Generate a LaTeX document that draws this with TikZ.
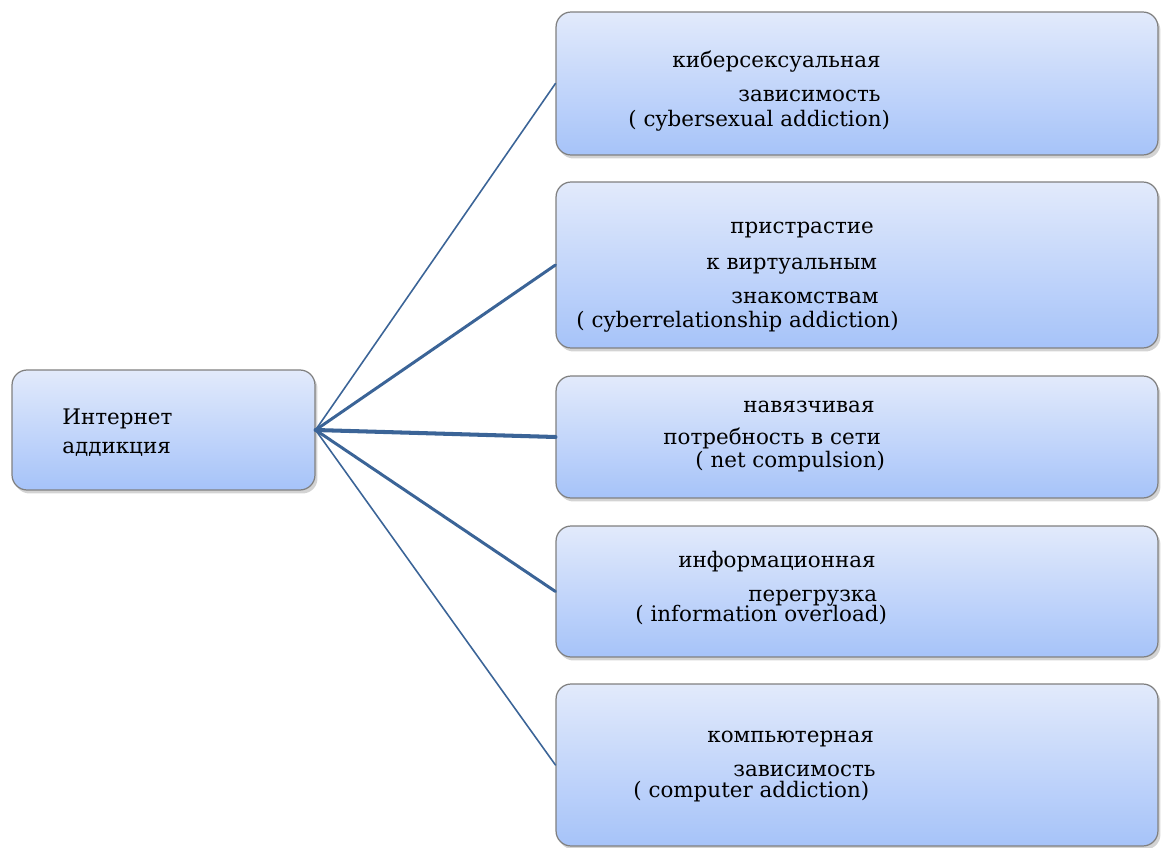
\documentclass[tikz,border=0pt]{standalone}
\usepackage{fontspec}
\setmainfont{DejaVu Serif}
\usetikzlibrary{shadows}
\definecolor{linkblue}{HTML}{3B6497}
\definecolor{boxtop}{HTML}{E2EAFB}
\definecolor{boxbot}{HTML}{A6C3F9}
\tikzset{
	termbox/.style={draw=black!50, line width=0.7pt, rounded corners=0.3cm, top color=boxtop, bottom color=boxbot, inner sep=0pt,
		drop shadow={opacity=0.35, shadow xshift=0.05cm, shadow yshift=-0.07cm}},
	termtext/.style={anchor=mid west, inner sep=0pt, font=\rmfamily\fontsize{12.2}{15}\selectfont},
	link/.style={draw=linkblue, line cap=round}
}

\begin{document}
\begin{tikzpicture}[x=0.02cm, y=-0.02cm]
		%%%%% START %%%%%
		\useasboundingbox (0, 0) rectangle (1161, 848);
		
		\node[termbox, minimum width=6.06cm, minimum height=2.4cm] (hub) at (163.5, 430) {};
		\node[termtext] (hubA) at (62, 420) {Интернет};
		\node[termtext] (hubB) at (62, 449) {аддикция};
		
		\node[termbox, minimum width=12.04cm, minimum height=2.86cm] (b1) at (857, 83.5) {};
		\node[termbox, minimum width=12.04cm, minimum height=3.32cm] (b2) at (857, 265) {};
		\node[termbox, minimum width=12.04cm, minimum height=2.44cm] (b3) at (857, 437) {};
		\node[termbox, minimum width=12.04cm, minimum height=2.62cm] (b4) at (857, 591.5) {};
		\node[termbox, minimum width=12.04cm, minimum height=3.24cm] (b5) at (857, 765) {};
		
		\node[termtext] (t11) at (672, 63) {киберсексуальная};
		\node[termtext] (t12) at (738, 97) {зависимость};
		\node[termtext] (t13) at (628, 122) {( cybersexual addiction)};
		
		\node[termtext] (t21) at (730, 229) {пристрастие};
		\node[termtext] (t22) at (706, 265) {к виртуальным};
		\node[termtext] (t23) at (731, 299) {знакомствам};
		\node[termtext] (t24) at (576, 323) {( cyberrelationship addiction)};
		
		\node[termtext] (t31) at (743, 408) {навязчивая};
		\node[termtext] (t32) at (663, 440) {потребность в сети};
		\node[termtext] (t33) at (695, 463) {( net compulsion)};
		
		\node[termtext] (t41) at (678, 563) {информационная};
		\node[termtext] (t42) at (748, 597) {перегрузка};
		\node[termtext] (t43) at (635, 617) {( information overload)};
		
		\node[termtext] (t51) at (707, 738) {компьютерная};
		\node[termtext] (t52) at (733, 772) {зависимость};
		\node[termtext] (t53) at (633, 793) {( computer addiction)};
		
		\draw[link, line width=0.9pt] (hub.east) -- (b1.west);
		\draw[link, line width=1.7pt] (hub.east) -- (b2.west);
		\draw[link, line width=2.3pt] (hub.east) -- (b3.west);
		\draw[link, line width=1.7pt] (hub.east) -- (b4.west);
		\draw[link, line width=0.9pt] (hub.east) -- (b5.west);
		
		%%%%% END %%%%%
\end{tikzpicture}
\end{document}
